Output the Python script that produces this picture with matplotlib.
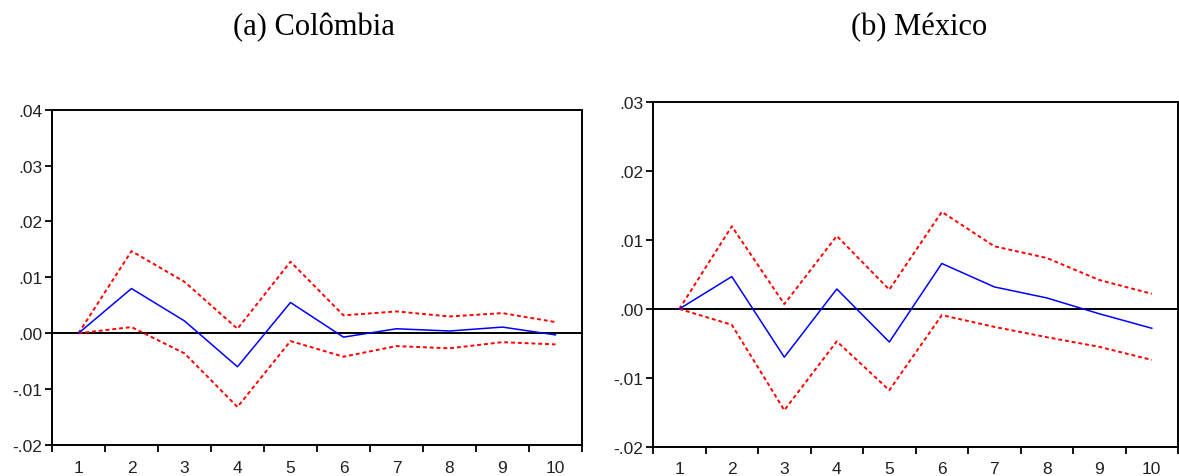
import numpy as np
import matplotlib
matplotlib.use('Agg')
import matplotlib.pyplot as plt
from matplotlib.ticker import FixedLocator, FuncFormatter

# periods
periods = np.arange(1, 11)

# (a) Colombia: response and +/- 2 s.e. bands
col_resp = [0.0, 0.0080, 0.0022, -0.0060, 0.0055, -0.0007, 0.0008, 0.0004, 0.0011, -0.0003]
col_upper = [0.0, 0.0147, 0.0092, 0.0008, 0.0128, 0.0032, 0.0039, 0.0030, 0.0036, 0.0020]
col_lower = [0.0, 0.0011, -0.0036, -0.0132, -0.0014, -0.0042, -0.0023, -0.0027, -0.0016, -0.0020]

# (b) Mexico
mex_resp = [0.0, 0.0047, -0.0070, 0.0029, -0.0048, 0.0066, 0.0032, 0.0016, -0.0007, -0.0028]
mex_upper = [0.0, 0.0120, 0.0007, 0.0106, 0.0028, 0.0141, 0.0091, 0.0074, 0.0042, 0.0022]
mex_lower = [0.0, -0.0023, -0.0147, -0.0047, -0.0118, -0.0009, -0.0026, -0.0041, -0.0055, -0.0074]

titles = ['(a) Colômbia', '(b) México']
col_yticks = [-0.02, -0.01, 0.0, 0.01, 0.02, 0.03, 0.04]
mex_yticks = [-0.02, -0.01, 0.0, 0.01, 0.02, 0.03]

TICK_FONT = ['Liberation Sans Narrow', 'Liberation Sans']


def fmt(v, pos):
    s = '%.2f' % v
    if s.startswith('-0'):
        return '-' + s[2:]
    if s.startswith('0'):
        return s[1:]
    return s


def panel(ax, resp, upper, lower, yticks):
    ax.plot(periods, upper, color='red', lw=1.4, ls=(0, (2.0, 1.5)))
    ax.plot(periods, lower, color='red', lw=1.4, ls=(0, (2.0, 1.5)))
    ax.axhline(0, color='black', lw=1.4, zorder=1)
    ax.plot(periods, resp, color='blue', lw=1.1)
    ax.set_xlim(0.5, 10.5)
    ax.set_ylim(yticks[0], yticks[-1])
    ax.yaxis.set_major_locator(FixedLocator(yticks))
    ax.yaxis.set_major_formatter(FuncFormatter(fmt))
    ax.set_xticks(periods)
    ax.set_xticks(np.arange(0.5, 11, 1), minor=True)
    ax.tick_params(axis='x', which='major', length=0, pad=10.5, labelsize=12.5)
    ax.tick_params(axis='x', which='minor', length=5, width=1.3, direction='out')
    ax.tick_params(axis='y', length=5, width=1.3, direction='out', pad=2, labelsize=12.5)
    for lab in ax.get_xticklabels() + ax.get_yticklabels():
        lab.set_fontfamily(TICK_FONT)
        lab.set_color('#222222')
    for sp in ax.spines.values():
        sp.set_linewidth(1.4)


fig = plt.figure(figsize=(11.79, 4.77), dpi=100)
ax1 = fig.add_axes([0.0441, 0.0650, 0.4495, 0.7029])
ax2 = fig.add_axes([0.5539, 0.0614, 0.4453, 0.7220])

panel(ax1, col_resp, col_upper, col_lower, col_yticks)
panel(ax2, mex_resp, mex_upper, mex_lower, mex_yticks)

fig.text(0.266, 0.943, titles[0], ha='center', va='center', fontsize=22, family='Liberation Serif')
fig.text(0.780, 0.943, titles[1], ha='center', va='center', fontsize=22, family='Liberation Serif')

fig.savefig('out.png', dpi=100)
